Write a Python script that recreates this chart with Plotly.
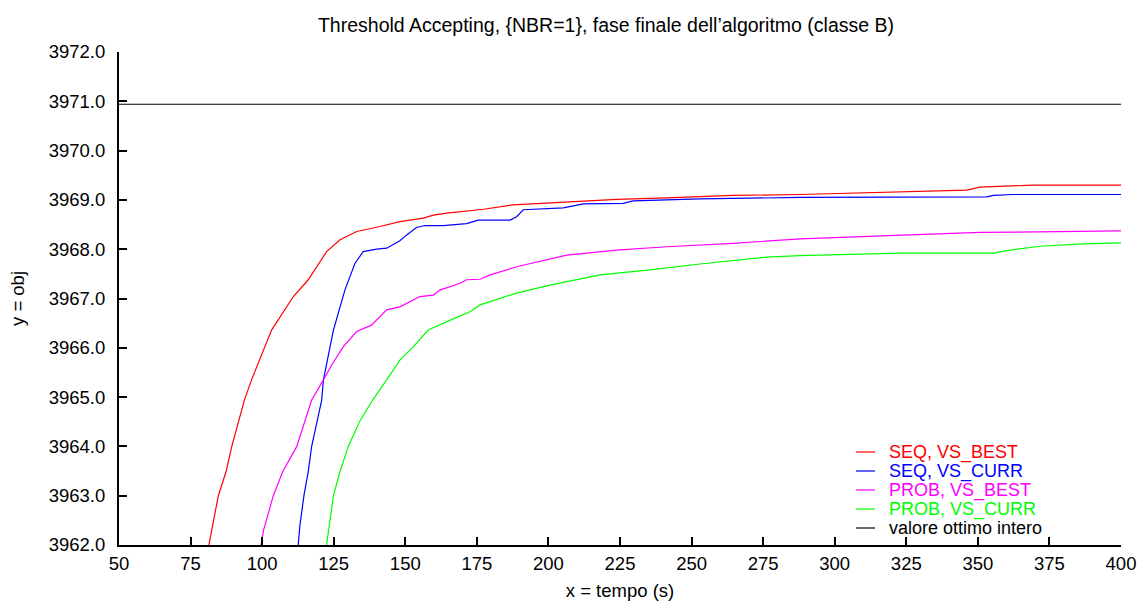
import plotly.graph_objects as go

# ---- data ----
seq_best_x = [81.4, 84.7, 87.4, 89.4, 93.8, 96.3, 103.3, 110.9, 116.1, 122.5, 127.2, 133.0, 141.2,
              148.1, 156.3, 159.8, 164.5, 176.1, 177.3, 187.7, 206.3, 223.8, 241.3, 264.6, 287.9,
              346.1, 350.7, 369.3, 400.0]
seq_best_y = [3962.0, 3963.0, 3963.49, 3964.0, 3964.94, 3965.35, 3966.36, 3967.04, 3967.38, 3967.95,
              3968.19, 3968.36, 3968.46, 3968.56, 3968.63, 3968.69, 3968.73, 3968.80, 3968.81, 3968.90,
              3968.96, 3969.01, 3969.04, 3969.09, 3969.11, 3969.20, 3969.26, 3969.30, 3969.30]

seq_curr_x = [112.6, 113.2, 114.6, 116.1, 117.3, 120.8, 121.4, 124.9, 128.9, 132.4, 135.3, 140.0,
              143.5, 148.1, 150.5, 153.9, 156.9, 163.3, 171.4, 175.5, 186.6, 188.9, 191.2, 205.2,
              212.2, 226.1, 229.6, 252.9, 287.9, 353.1, 355.5, 362.4, 400.0]
seq_curr_y = [3962.0, 3962.4, 3963.0, 3963.49, 3964.0, 3964.94, 3965.35, 3966.36, 3967.17, 3967.71,
              3967.95, 3968.0, 3968.02, 3968.17, 3968.29, 3968.44, 3968.48, 3968.48, 3968.52, 3968.59,
              3968.59, 3968.66, 3968.80, 3968.84, 3968.92, 3968.93, 3968.98, 3969.02, 3969.05, 3969.06,
              3969.09, 3969.11, 3969.11]

prob_best_x = [99.6, 100.5, 103.9, 107.2, 112.1, 117.3, 121.4, 124.3, 128.3, 133.0, 138.2, 143.5,
               148.1, 155.1, 159.8, 162.1, 169.1, 171.4, 176.1, 179.6, 190.0, 206.4, 223.8, 241.3,
               264.6, 287.9, 326.1, 350.7, 400.0]
prob_best_y = [3962.0, 3962.3, 3963.0, 3963.49, 3964.0, 3964.94, 3965.35, 3965.65, 3966.02, 3966.33,
               3966.46, 3966.77, 3966.83, 3967.04, 3967.07, 3967.17, 3967.31, 3967.38, 3967.39, 3967.48,
               3967.66, 3967.88, 3967.98, 3968.05, 3968.12, 3968.21, 3968.29, 3968.34, 3968.37]

prob_curr_x = [122.5, 124.9, 127.2, 130.1, 134.0, 138.6, 143.5, 148.1, 152.8, 158.0, 164.5, 168.5,
               172.6, 176.1, 188.9, 200.5, 218.0, 235.5, 252.9, 276.2, 287.9, 322.8, 355.5, 360.0,
               371.7, 386.8, 400.0]
prob_curr_y = [3962.0, 3963.0, 3963.49, 3964.0, 3964.5, 3964.94, 3965.35, 3965.75, 3966.02, 3966.36,
               3966.53, 3966.63, 3966.73, 3966.87, 3967.11, 3967.27, 3967.48, 3967.58, 3967.70, 3967.84,
               3967.87, 3967.92, 3967.92, 3967.97, 3968.06, 3968.11, 3968.13]

opt_x = [50.0, 400.0]
opt_y = [3970.94, 3970.94]

series_names = ["SEQ, VS_BEST", "SEQ, VS_CURR", "PROB, VS_BEST", "PROB, VS_CURR", "valore ottimo intero"]
series_x = [seq_best_x, seq_curr_x, prob_best_x, prob_curr_x, opt_x]
series_y = [seq_best_y, seq_curr_y, prob_best_y, prob_curr_y, opt_y]
series_colors = ["#ff0000", "#0000ff", "#ff00ff", "#00ff00", "#000000"]

FONT = "Liberation Sans, Arial, Helvetica, sans-serif"

W, H = 1138, 601
ML, MR, MT, MB = 119, 17, 52, 56
PW, PH = W - ML - MR, H - MT - MB

fig = go.Figure()
for name, xs, ys, col in zip(series_names, series_x, series_y, series_colors):
    fig.add_trace(go.Scatter(x=xs, y=ys, mode="lines", line=dict(color=col, width=1.2),
                             name=name, showlegend=False))

# gnuplot-style key: short line sample + coloured text, tight row spacing
key_line_x0, key_line_x1, key_text_x = 856, 875, 887
key_top, key_step = 452, 19
shapes, annotations = [], []
for i, (name, col) in enumerate(zip(series_names, series_colors)):
    py = key_top + i * key_step
    yp = (H - MB - py) / PH
    shapes.append(dict(type="line", xref="paper", yref="paper",
                       x0=(key_line_x0 - ML) / PW, x1=(key_line_x1 - ML) / PW, y0=yp, y1=yp,
                       line=dict(color=col, width=1.2)))
    annotations.append(dict(xref="paper", yref="paper", x=(key_text_x - ML) / PW, y=yp,
                            xanchor="left", yanchor="middle", showarrow=False, text=name,
                            font=dict(size=18, family=FONT, color=col)))

fig.update_layout(
    width=W, height=H,
    margin=dict(l=ML, r=MR, t=MT, b=MB),
    paper_bgcolor="white", plot_bgcolor="white",
    font=dict(family=FONT, size=18, color="black"),
    title=dict(text="Threshold Accepting, {NBR=1}, fase finale dell’algoritmo (classe B)",
               x=0.5325, xanchor="center", y=0.958, yanchor="middle",
               font=dict(size=19.5, family=FONT)),
    showlegend=False,
    shapes=shapes, annotations=annotations,
)

fig.update_xaxes(
    range=[50, 400], dtick=25, tick0=50, showgrid=False, zeroline=False, automargin=False,
    showline=True, linecolor="black", linewidth=2,
    ticks="inside", ticklen=8, tickwidth=1.5, tickcolor="black", ticklabelstandoff=1,
    tickfont=dict(size=18.5, family=FONT),
    title=dict(text="x = tempo (s)", font=dict(size=18.5, family=FONT), standoff=15),
)
fig.update_yaxes(
    range=[3962, 3972], dtick=1, tick0=3962, tickformat=".1f", showgrid=False, zeroline=False,
    automargin=False,
    showline=True, linecolor="black", linewidth=2,
    ticks="inside", ticklen=8, tickwidth=1.5, tickcolor="black", ticklabelstandoff=8,
    tickfont=dict(size=18.5, family=FONT),
    title=dict(text="y = obj", font=dict(size=18.5, family=FONT), standoff=19),
)

fig.write_html("out.html")
